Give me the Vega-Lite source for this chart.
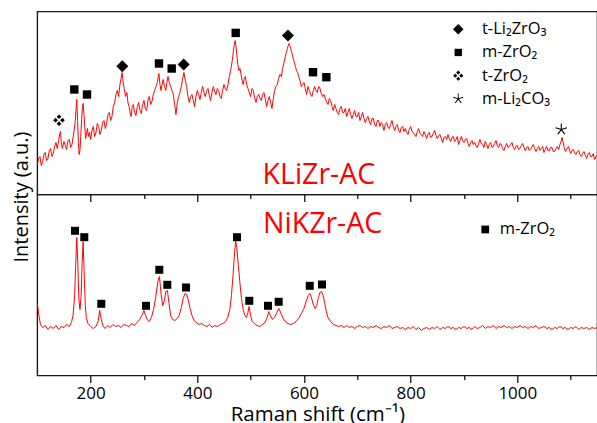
{
  "$schema": "https://vega.github.io/schema/vega-lite/v6.json",
  "padding": {"left": 10.3, "top": 10.5, "right": 0, "bottom": 20},
  "config": {
    "font": "Open Sans",
    "view": {"stroke": "#1a1a1a", "strokeWidth": 1.4},
    "axis": {"grid": false, "labelColor": "black", "titleColor": "black", "tickColor": "black", "labelFont": "Open Sans", "titleFont": "Open Sans", "titleFontWeight": "normal"}
  },
  "spacing": 0,
  "bounds": "flush",
  "resolve": {"scale": {"shape": "independent"}, "legend": {"shape": "independent"}},
  "datasets": {
    "top": [
      {"x":100,"y":30},{"x":102.5,"y":36},{"x":105,"y":38},{"x":107.5,"y":29},{"x":110,"y":33},{"x":112.5,"y":40},{"x":115,"y":42},{"x":117.5,"y":34},{"x":120,"y":36},{"x":122.5,"y":44},{"x":125,"y":46},{"x":127.5,"y":38},{"x":130,"y":41},{"x":132.5,"y":48},{"x":135,"y":52},{"x":137.5,"y":46},{"x":140,"y":54},{"x":142,"y":60},{"x":143.5,"y":63},{"x":145,"y":52},{"x":147,"y":46},{"x":150,"y":53},{"x":152.5,"y":49},{"x":155,"y":45},{"x":157.5,"y":54},{"x":160,"y":55},{"x":162.5,"y":47},{"x":165,"y":50},{"x":167,"y":57},{"x":169,"y":64},{"x":171,"y":72},{"x":172.5,"y":84},{"x":174,"y":95},{"x":175.5,"y":74},{"x":177,"y":52},{"x":178.5,"y":40},{"x":180,"y":44},{"x":181.5,"y":58},{"x":183,"y":75},{"x":184.5,"y":86},{"x":186,"y":91},{"x":187.5,"y":80},{"x":189,"y":68},{"x":190.5,"y":56},{"x":192,"y":60},{"x":194,"y":66},{"x":196,"y":58},{"x":198,"y":62},{"x":200,"y":55},{"x":202.5,"y":64},{"x":205,"y":68},{"x":207.5,"y":58},{"x":210,"y":62},{"x":212.5,"y":71},{"x":215,"y":68},{"x":217.5,"y":60},{"x":220,"y":64},{"x":222.5,"y":72},{"x":225,"y":74},{"x":227.5,"y":66},{"x":230,"y":71},{"x":232.5,"y":80},{"x":235,"y":82},{"x":237.5,"y":74},{"x":240,"y":78},{"x":242.5,"y":88},{"x":245,"y":92},{"x":247.5,"y":100},{"x":250,"y":104},{"x":252.5,"y":98},{"x":255,"y":110},{"x":257,"y":116},{"x":259,"y":122},{"x":261,"y":112},{"x":263,"y":106},{"x":265.5,"y":98},{"x":268,"y":102},{"x":270,"y":92},{"x":272,"y":88},{"x":274,"y":82},{"x":276,"y":78},{"x":278,"y":88},{"x":280,"y":90},{"x":282.5,"y":82},{"x":285,"y":79},{"x":287.5,"y":88},{"x":290,"y":92},{"x":292.5,"y":84},{"x":295,"y":81},{"x":297.5,"y":90},{"x":300,"y":94},{"x":302.5,"y":86},{"x":305,"y":84},{"x":307.5,"y":94},{"x":310,"y":98},{"x":312.5,"y":90},{"x":315,"y":93},{"x":317.5,"y":100},{"x":320,"y":104},{"x":322.5,"y":108},{"x":325,"y":112},{"x":326.5,"y":117},{"x":328,"y":121},{"x":330,"y":110},{"x":332,"y":104},{"x":334,"y":110},{"x":336,"y":115},{"x":338.5,"y":108},{"x":341,"y":104},{"x":343,"y":112},{"x":345,"y":118},{"x":347.5,"y":112},{"x":350,"y":108},{"x":352.5,"y":104},{"x":355,"y":100},{"x":357.5,"y":90},{"x":360,"y":80},{"x":362.5,"y":92},{"x":365,"y":98},{"x":367.5,"y":102},{"x":370,"y":108},{"x":372.5,"y":116},{"x":375,"y":122},{"x":377.5,"y":114},{"x":380,"y":108},{"x":382.5,"y":98},{"x":385,"y":92},{"x":387.5,"y":98},{"x":390,"y":100},{"x":392.5,"y":94},{"x":395,"y":88},{"x":397.5,"y":98},{"x":400,"y":104},{"x":402.5,"y":100},{"x":405,"y":95},{"x":407.5,"y":102},{"x":410,"y":108},{"x":412.5,"y":102},{"x":415,"y":98},{"x":417.5,"y":104},{"x":420,"y":106},{"x":422.5,"y":99},{"x":425,"y":94},{"x":427.5,"y":102},{"x":430,"y":108},{"x":432.5,"y":103},{"x":435,"y":100},{"x":437.5,"y":106},{"x":440,"y":104},{"x":442.5,"y":98},{"x":445,"y":96},{"x":447.5,"y":104},{"x":450,"y":110},{"x":452.5,"y":106},{"x":455,"y":104},{"x":457.5,"y":110},{"x":460,"y":118},{"x":462.5,"y":124},{"x":465,"y":132},{"x":466.5,"y":138},{"x":468,"y":145},{"x":469.5,"y":150},{"x":471,"y":154},{"x":472.5,"y":148},{"x":474,"y":140},{"x":476,"y":130},{"x":478,"y":124},{"x":480,"y":126},{"x":482,"y":120},{"x":484,"y":114},{"x":486,"y":110},{"x":488,"y":116},{"x":490,"y":118},{"x":492.5,"y":110},{"x":495,"y":106},{"x":497.5,"y":102},{"x":500,"y":98},{"x":502.5,"y":106},{"x":505,"y":104},{"x":507.5,"y":97},{"x":510,"y":92},{"x":512.5,"y":98},{"x":515,"y":100},{"x":517.5,"y":96},{"x":520,"y":94},{"x":522.5,"y":100},{"x":525,"y":102},{"x":527.5,"y":95},{"x":530,"y":88},{"x":532.5,"y":94},{"x":535,"y":98},{"x":537.5,"y":92},{"x":540,"y":86},{"x":542.5,"y":96},{"x":545,"y":104},{"x":547.5,"y":108},{"x":550,"y":110},{"x":552.5,"y":116},{"x":555,"y":120},{"x":557.5,"y":118},{"x":560,"y":126},{"x":562.5,"y":132},{"x":565,"y":138},{"x":567,"y":142},{"x":569,"y":146},{"x":570.5,"y":149},{"x":572,"y":151},{"x":573.5,"y":149},{"x":575,"y":146},{"x":576.5,"y":143},{"x":578,"y":140},{"x":580,"y":136},{"x":582,"y":132},{"x":584,"y":128},{"x":586,"y":124},{"x":588,"y":122},{"x":590,"y":118},{"x":592.5,"y":114},{"x":595,"y":108},{"x":597.5,"y":110},{"x":600,"y":112},{"x":602.5,"y":106},{"x":605,"y":100},{"x":607.5,"y":108},{"x":610,"y":104},{"x":612.5,"y":100},{"x":615,"y":98},{"x":617.5,"y":104},{"x":620,"y":108},{"x":622.5,"y":104},{"x":625,"y":102},{"x":627.5,"y":108},{"x":630,"y":106},{"x":632.5,"y":101},{"x":635,"y":98},{"x":637.5,"y":100},{"x":640,"y":96},{"x":642.5,"y":92},{"x":645,"y":90},{"x":647.5,"y":96},{"x":650,"y":94},{"x":652.5,"y":88},{"x":655,"y":84},{"x":657.5,"y":90},{"x":660,"y":86},{"x":662.5,"y":82},{"x":665,"y":80},{"x":667.5,"y":86},{"x":670,"y":88},{"x":672.5,"y":82},{"x":675,"y":82},{"x":677.5,"y":86},{"x":680,"y":78},{"x":682.5,"y":82},{"x":685,"y":86},{"x":687.5,"y":80},{"x":690,"y":76},{"x":692.5,"y":80},{"x":695,"y":84},{"x":697.5,"y":78},{"x":700,"y":78},{"x":702.5,"y":82},{"x":705,"y":74},{"x":707.5,"y":78},{"x":710,"y":82},{"x":712.5,"y":76},{"x":715,"y":72},{"x":717.5,"y":76},{"x":720,"y":78},{"x":722.5,"y":73},{"x":725,"y":70},{"x":727.5,"y":76},{"x":730,"y":76},{"x":732.5,"y":70},{"x":735,"y":68},{"x":737.5,"y":74},{"x":740,"y":74},{"x":742.5,"y":68},{"x":745,"y":72},{"x":747.5,"y":70},{"x":750,"y":64},{"x":752.5,"y":70},{"x":755,"y":72},{"x":757.5,"y":67},{"x":760,"y":66},{"x":762.5,"y":70},{"x":765,"y":74},{"x":767.5,"y":68},{"x":770,"y":64},{"x":772.5,"y":68},{"x":775,"y":70},{"x":777.5,"y":64},{"x":780,"y":62},{"x":782.5,"y":67},{"x":785,"y":68},{"x":787.5,"y":63},{"x":790,"y":66},{"x":792.5,"y":62},{"x":795,"y":60},{"x":797.5,"y":65},{"x":800,"y":68},{"x":802.5,"y":63},{"x":805,"y":62},{"x":807.5,"y":60},{"x":810,"y":58},{"x":812.5,"y":63},{"x":815,"y":66},{"x":817.5,"y":61},{"x":820,"y":60},{"x":822.5,"y":58},{"x":825,"y":63},{"x":827.5,"y":60},{"x":830,"y":56},{"x":832.5,"y":60},{"x":835,"y":62},{"x":837.5,"y":57},{"x":840,"y":58},{"x":842.5,"y":61},{"x":845,"y":64},{"x":847.5,"y":59},{"x":850,"y":56},{"x":852.5,"y":59},{"x":855,"y":60},{"x":857.5,"y":56},{"x":860,"y":52},{"x":862.5,"y":57},{"x":865,"y":58},{"x":867.5,"y":55},{"x":870,"y":60},{"x":872.5,"y":56},{"x":875,"y":53},{"x":877.5,"y":57},{"x":880,"y":58},{"x":882.5,"y":53},{"x":885,"y":55},{"x":887.5,"y":58},{"x":890,"y":50},{"x":892.5,"y":54},{"x":895,"y":58},{"x":897.5,"y":54},{"x":900,"y":52},{"x":902.5,"y":55},{"x":905,"y":56},{"x":907.5,"y":51},{"x":910,"y":48},{"x":912.5,"y":52},{"x":915,"y":54},{"x":917.5,"y":50},{"x":920,"y":52},{"x":922.5,"y":49},{"x":925,"y":47},{"x":927.5,"y":51},{"x":930,"y":55},{"x":932.5,"y":51},{"x":935,"y":50},{"x":937.5,"y":47},{"x":940,"y":53},{"x":942.5,"y":50},{"x":945,"y":46},{"x":947.5,"y":50},{"x":950,"y":52},{"x":952.5,"y":47},{"x":955,"y":48},{"x":957.5,"y":51},{"x":960,"y":54},{"x":962.5,"y":49},{"x":965,"y":47},{"x":967.5,"y":51},{"x":970,"y":50},{"x":972.5,"y":46},{"x":975,"y":44},{"x":977.5,"y":48},{"x":980,"y":51},{"x":982.5,"y":47},{"x":985,"y":48},{"x":987.5,"y":50},{"x":990,"y":52},{"x":992.5,"y":47},{"x":995,"y":45},{"x":997.5,"y":48},{"x":1000,"y":49},{"x":1002.5,"y":45},{"x":1005,"y":46},{"x":1007.5,"y":49},{"x":1010,"y":51},{"x":1012.5,"y":47},{"x":1015,"y":44},{"x":1017.5,"y":47},{"x":1020,"y":48},{"x":1022.5,"y":44},{"x":1025,"y":45},{"x":1027.5,"y":48},{"x":1030,"y":50},{"x":1032.5,"y":46},{"x":1035,"y":43},{"x":1037.5,"y":46},{"x":1040,"y":48},{"x":1042.5,"y":44},{"x":1045,"y":46},{"x":1047.5,"y":48},{"x":1050,"y":42},{"x":1052.5,"y":45},{"x":1055,"y":48},{"x":1057.5,"y":44},{"x":1060,"y":44},{"x":1062.5,"y":47},{"x":1065,"y":47},{"x":1067.5,"y":43},{"x":1070,"y":43},{"x":1072.5,"y":46},{"x":1075,"y":48},{"x":1077.5,"y":45},{"x":1080,"y":50},{"x":1082,"y":53},{"x":1084,"y":57},{"x":1086,"y":52},{"x":1088,"y":47},{"x":1090,"y":43},{"x":1092,"y":44},{"x":1094,"y":47},{"x":1096,"y":48},{"x":1098,"y":44},{"x":1100,"y":41},{"x":1102.5,"y":44},{"x":1105,"y":45},{"x":1107.5,"y":42},{"x":1110,"y":40},{"x":1112.5,"y":43},{"x":1115,"y":44},{"x":1117.5,"y":40},{"x":1120,"y":38},{"x":1122.5,"y":41},{"x":1125,"y":43},{"x":1127.5,"y":39},{"x":1130,"y":36},{"x":1132.5,"y":40},{"x":1135,"y":42},{"x":1137.5,"y":38},{"x":1140,"y":38},{"x":1142.5,"y":41},{"x":1145,"y":35},{"x":1147.5,"y":38},{"x":1150,"y":40}
    ],
    "bottom": [
      {"x":100,"y":72},{"x":103,"y":60},{"x":106,"y":51},{"x":110,"y":48},{"x":115,"y":50},{"x":120,"y":46},{"x":125,"y":49},{"x":130,"y":47},{"x":135,"y":50},{"x":140,"y":46},{"x":145,"y":49},{"x":150,"y":48},{"x":155,"y":51},{"x":160,"y":49},{"x":164,"y":53},{"x":167,"y":60},{"x":170,"y":80},{"x":172,"y":110},{"x":174,"y":138},{"x":176,"y":112},{"x":178,"y":76},{"x":180,"y":66},{"x":182,"y":78},{"x":184,"y":112},{"x":186,"y":134},{"x":188,"y":100},{"x":190,"y":70},{"x":192,"y":58},{"x":195,"y":52},{"x":200,"y":49},{"x":205,"y":47},{"x":210,"y":49},{"x":214,"y":54},{"x":217,"y":65},{"x":220,"y":56},{"x":223,"y":50},{"x":227,"y":47},{"x":232,"y":50},{"x":237,"y":48},{"x":242,"y":51},{"x":247,"y":49},{"x":252,"y":50},{"x":257,"y":48},{"x":262,"y":51},{"x":267,"y":50},{"x":272,"y":49},{"x":277,"y":52},{"x":282,"y":50},{"x":287,"y":53},{"x":292,"y":56},{"x":296,"y":60},{"x":300,"y":65},{"x":303,"y":60},{"x":306,"y":56},{"x":310,"y":54},{"x":314,"y":58},{"x":318,"y":66},{"x":322,"y":78},{"x":326,"y":94},{"x":329,"y":99},{"x":332,"y":82},{"x":335,"y":70},{"x":338,"y":74},{"x":341,"y":84},{"x":344,"y":85},{"x":347,"y":72},{"x":350,"y":60},{"x":354,"y":56},{"x":358,"y":55},{"x":362,"y":57},{"x":366,"y":60},{"x":370,"y":68},{"x":374,"y":78},{"x":377,"y":82},{"x":380,"y":81},{"x":383,"y":76},{"x":386,"y":68},{"x":390,"y":60},{"x":394,"y":55},{"x":398,"y":53},{"x":403,"y":51},{"x":408,"y":52},{"x":413,"y":50},{"x":418,"y":49},{"x":423,"y":51},{"x":428,"y":48},{"x":433,"y":50},{"x":438,"y":49},{"x":443,"y":51},{"x":448,"y":52},{"x":453,"y":54},{"x":457,"y":58},{"x":461,"y":66},{"x":464,"y":80},{"x":467,"y":100},{"x":470,"y":124},{"x":472,"y":134},{"x":474,"y":128},{"x":477,"y":110},{"x":480,"y":92},{"x":483,"y":76},{"x":486,"y":66},{"x":489,"y":60},{"x":492,"y":58},{"x":495,"y":63},{"x":497,"y":69},{"x":500,"y":60},{"x":503,"y":54},{"x":507,"y":52},{"x":512,"y":50},{"x":517,"y":49},{"x":522,"y":51},{"x":527,"y":53},{"x":531,"y":58},{"x":534,"y":64},{"x":537,"y":60},{"x":541,"y":56},{"x":545,"y":58},{"x":549,"y":63},{"x":553,"y":67},{"x":557,"y":62},{"x":561,"y":57},{"x":565,"y":54},{"x":570,"y":52},{"x":575,"y":51},{"x":580,"y":52},{"x":585,"y":54},{"x":590,"y":57},{"x":595,"y":62},{"x":600,"y":67},{"x":604,"y":74},{"x":608,"y":80},{"x":611,"y":82},{"x":614,"y":78},{"x":618,"y":70},{"x":621,"y":67},{"x":624,"y":70},{"x":627,"y":78},{"x":630,"y":83},{"x":633,"y":84},{"x":636,"y":80},{"x":639,"y":72},{"x":642,"y":64},{"x":645,"y":58},{"x":650,"y":54},{"x":655,"y":51},{"x":660,"y":50},{"x":665,"y":49},{"x":670,"y":50},{"x":675,"y":48},{"x":680,"y":50},{"x":685,"y":48},{"x":690,"y":49},{"x":695,"y":47},{"x":700,"y":49},{"x":705,"y":50},{"x":710,"y":48},{"x":715,"y":49},{"x":720,"y":47},{"x":725,"y":49},{"x":730,"y":48},{"x":735,"y":50},{"x":740,"y":48},{"x":745,"y":47},{"x":750,"y":49},{"x":755,"y":48},{"x":760,"y":50},{"x":765,"y":47},{"x":770,"y":48},{"x":775,"y":49},{"x":780,"y":47},{"x":785,"y":48},{"x":790,"y":46},{"x":795,"y":48},{"x":800,"y":47},{"x":805,"y":49},{"x":810,"y":46},{"x":815,"y":48},{"x":820,"y":45},{"x":825,"y":47},{"x":830,"y":48},{"x":835,"y":46},{"x":840,"y":48},{"x":845,"y":47},{"x":850,"y":49},{"x":855,"y":46},{"x":860,"y":48},{"x":865,"y":47},{"x":870,"y":49},{"x":875,"y":47},{"x":880,"y":48},{"x":885,"y":46},{"x":890,"y":48},{"x":895,"y":47},{"x":900,"y":49},{"x":905,"y":47},{"x":910,"y":48},{"x":915,"y":46},{"x":920,"y":49},{"x":925,"y":47},{"x":930,"y":48},{"x":935,"y":50},{"x":940,"y":47},{"x":945,"y":49},{"x":950,"y":48},{"x":955,"y":50},{"x":960,"y":47},{"x":965,"y":49},{"x":970,"y":48},{"x":975,"y":50},{"x":980,"y":48},{"x":985,"y":49},{"x":990,"y":47},{"x":995,"y":49},{"x":1000,"y":48},{"x":1005,"y":50},{"x":1010,"y":48},{"x":1015,"y":49},{"x":1020,"y":47},{"x":1025,"y":49},{"x":1030,"y":48},{"x":1035,"y":50},{"x":1040,"y":47},{"x":1045,"y":48},{"x":1050,"y":49},{"x":1055,"y":47},{"x":1060,"y":48},{"x":1065,"y":46},{"x":1070,"y":48},{"x":1075,"y":47},{"x":1080,"y":49},{"x":1085,"y":47},{"x":1090,"y":48},{"x":1095,"y":46},{"x":1100,"y":48},{"x":1105,"y":47},{"x":1110,"y":49},{"x":1115,"y":46},{"x":1120,"y":48},{"x":1125,"y":47},{"x":1130,"y":48},{"x":1135,"y":46},{"x":1140,"y":48},{"x":1145,"y":47},{"x":1150,"y":48}
    ],
    "topMarks": [
      {"x":259.4,"y":128.3,"phase":"t-Li₂ZrO₃"},{"x":374.5,"y":130,"phase":"t-Li₂ZrO₃"},{"x":570,"y":159,"phase":"t-Li₂ZrO₃"},
      {"x":169.4,"y":105,"phase":"m-ZrO₂"},{"x":193.2,"y":100,"phase":"m-ZrO₂"},{"x":328.2,"y":131,"phase":"m-ZrO₂"},{"x":352,"y":126,"phase":"m-ZrO₂"},{"x":472,"y":161.6,"phase":"m-ZrO₂"},{"x":617,"y":122.3,"phase":"m-ZrO₂"},{"x":642,"y":117.3,"phase":"m-ZrO₂"},
      {"x":140.7,"y":74.3,"phase":"t-ZrO₂"},
      {"x":1082.5,"y":65,"phase":"m-Li₂CO₃"}
    ],
    "bottomMarks": [
      {"x":170.7,"y":144.7,"phase":"m-ZrO₂"},{"x":188.1,"y":138.3,"phase":"m-ZrO₂"},{"x":220,"y":71.7,"phase":"m-ZrO₂"},{"x":303.8,"y":69.7,"phase":"m-ZrO₂"},{"x":328.8,"y":105.7,"phase":"m-ZrO₂"},{"x":343.8,"y":90.7,"phase":"m-ZrO₂"},{"x":378.8,"y":88,"phase":"m-ZrO₂"},{"x":474.4,"y":138.3,"phase":"m-ZrO₂"},{"x":497.5,"y":74.7,"phase":"m-ZrO₂"},{"x":532.6,"y":69.7,"phase":"m-ZrO₂"},{"x":552.6,"y":73.7,"phase":"m-ZrO₂"},{"x":610.8,"y":89.7,"phase":"m-ZrO₂"},{"x":633.8,"y":91,"phase":"m-ZrO₂"}
    ]
  },
  "vconcat": [
    {
      "width": 560,
      "height": 183,
      "layer": [
        {
          "data": {"name": "top"},
          "mark": {"type": "line", "color": "#ff0000", "strokeWidth": 1, "clip": true},
          "encoding": {
            "x": {"field": "x", "type": "quantitative", "scale": {"domain": [100, 1150], "nice": false, "zero": false},
              "axis": {"title": null, "labels": false, "domain": false, "values": [200,300,400,500,600,700,800,900,1000,1100],
                "tickSize": {"condition": {"test": "datum.value % 200 === 0", "value": 7}, "value": 4}, "tickWidth": 1.2}},
            "y": {"field": "y", "type": "quantitative", "scale": {"domain": [0, 183], "nice": false, "zero": false},
              "axis": {"title": "Intensity (a.u.)", "labels": false, "ticks": false, "domain": false, "titleFontSize": 20, "titleY": 185, "titlePadding": 6}}
          }
        },
        {
          "data": {"name": "topMarks"},
          "mark": {"type": "point", "filled": true, "opacity": 1, "color": "black", "size": 144},
          "encoding": {
            "x": {"field": "x", "type": "quantitative"},
            "y": {"field": "y", "type": "quantitative"},
            "shape": {"field": "phase", "type": "nominal",
              "scale": {"domain": ["t-Li₂ZrO₃", "m-ZrO₂", "t-ZrO₂", "m-Li₂CO₃"],
                "range": ["M0,-1L1,0L0,1L-1,0Z", "M-0.7,-0.7L0.7,-0.7L0.7,0.7L-0.7,0.7Z", "M0,-0.97L0.39,-0.58L0,-0.19L-0.39,-0.58Z M0.97,0L0.58,0.39L0.19,0L0.58,-0.39Z M0,0.97L0.39,0.58L0,0.19L-0.39,0.58Z M-0.97,0L-0.58,0.39L-0.19,0L-0.58,-0.39Z", "M-0.09,-1L0.09,-1L0.09,-0.124L0.923,-0.395L0.979,-0.223L0.146,0.047L0.661,0.756L0.515,0.862L0,0.153L-0.515,0.862L-0.661,0.756L-0.146,0.047L-0.979,-0.223L-0.923,-0.395L-0.09,-0.124Z"]},
              "legend": {"title": null, "orient": "none", "legendX": 412.7, "legendY": 9.5, "padding": 0, "labelFontSize": 16.5, "labelFont": "Open Sans", "labelColor": "black", "labelOffset": 15.5, "rowPadding": 6.2, "symbolSize": 110, "symbolFillColor": "black", "symbolStrokeWidth": 0, "labelLimit": 300}}
          }
        },
        {
          "data": {"values": [{"x": 628, "y": 20, "t": "KLiZr-AC"}]},
          "mark": {"type": "text", "color": "#ff0000", "fontSize": 28.5, "font": "Open Sans", "baseline": "middle", "align": "center"},
          "encoding": {"x": {"field": "x", "type": "quantitative"}, "y": {"field": "y", "type": "quantitative"}, "text": {"field": "t"}}
        }
      ]
    },
    {
      "width": 560,
      "height": 181,
      "layer": [
        {
          "data": {"name": "bottom"},
          "mark": {"type": "line", "color": "#ff0000", "strokeWidth": 1, "clip": true},
          "encoding": {
            "x": {"field": "x", "type": "quantitative", "scale": {"domain": [100, 1150], "nice": false, "zero": false},
              "axis": {"title": "Raman shift (cm⁻¹)", "titleFontSize": 20.5, "titleBaseline": "alphabetic", "titleY": 45.5, "labelFontSize": 17, "labelPadding": 3.5, "domain": false,
                "values": [200,300,400,500,600,700,800,900,1000,1100], "format": "d",
                "labelExpr": "datum.value % 200 === 0 ? datum.label : ''",
                "tickSize": {"condition": {"test": "datum.value % 200 === 0", "value": 7}, "value": 4}, "tickWidth": 1.2}},
            "y": {"field": "y", "type": "quantitative", "scale": {"domain": [0, 181], "nice": false, "zero": false}, "axis": null}
          }
        },
        {
          "data": {"name": "bottomMarks"},
          "mark": {"type": "point", "filled": true, "opacity": 1, "color": "black", "size": 64},
          "encoding": {
            "x": {"field": "x", "type": "quantitative"},
            "y": {"field": "y", "type": "quantitative"},
            "shape": {"field": "phase", "type": "nominal", "scale": {"domain": ["m-ZrO₂"], "range": ["square"]},
              "legend": {"title": null, "orient": "none", "legendX": 439.7, "legendY": 26.7, "padding": 0, "labelFontSize": 16.5, "labelColor": "black", "labelOffset": 6.3, "symbolFillColor": "black", "symbolStrokeWidth": 0, "symbolSize": 60, "labelLimit": 300}}
          }
        },
        {
          "data": {"values": [{"x": 635, "y": 151.5, "t": "NiKZr-AC"}]},
          "mark": {"type": "text", "color": "#ff0000", "fontSize": 28.5, "font": "Open Sans", "baseline": "middle", "align": "center"},
          "encoding": {"x": {"field": "x", "type": "quantitative"}, "y": {"field": "y", "type": "quantitative"}, "text": {"field": "t"}}
        }
      ]
    }
  ]
}
